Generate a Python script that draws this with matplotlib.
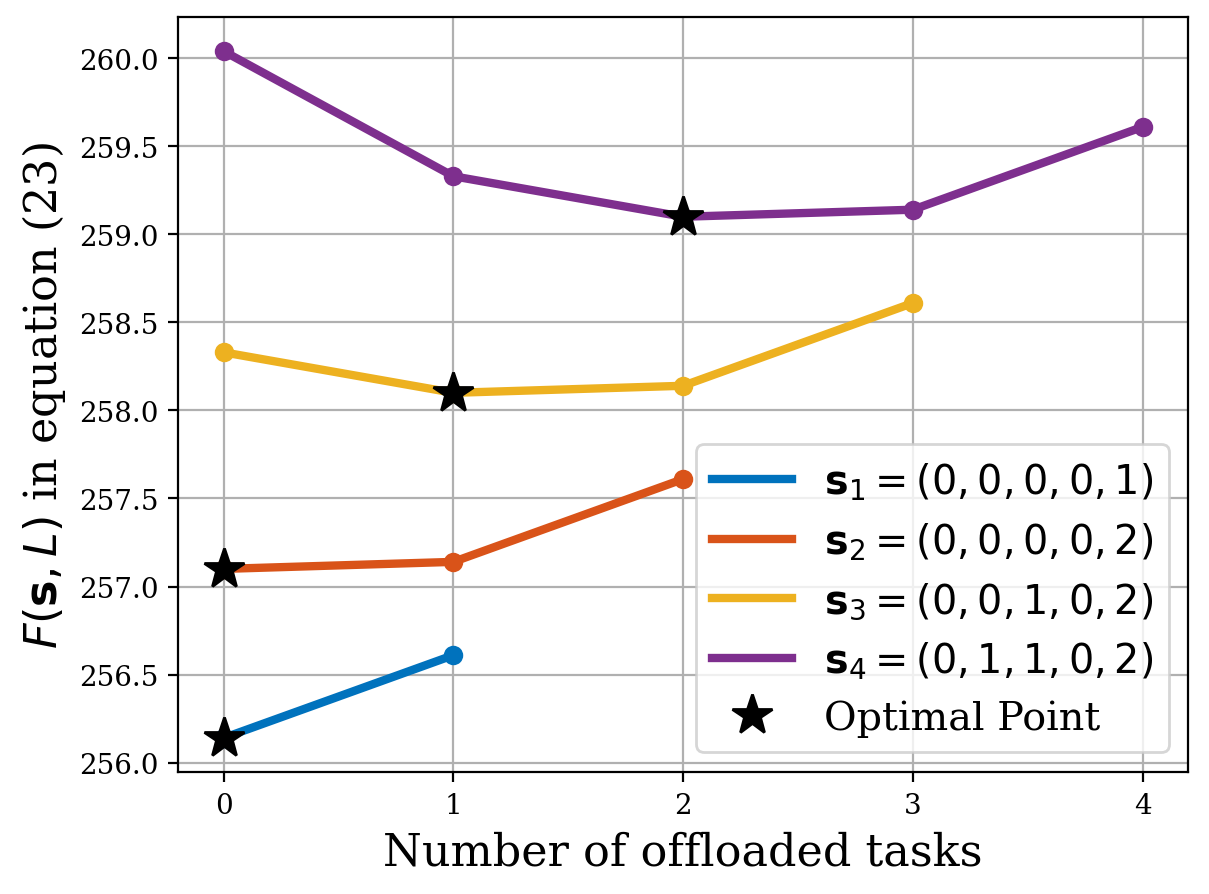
import matplotlib
matplotlib.use("Agg")
import matplotlib.pyplot as plt

plt.rcParams['font.family'] = 'DejaVu Serif'
plt.rcParams['mathtext.fontset'] = 'dejavusans'

x1 = [0, 1]
y1 = [256.14, 256.61]
x2 = [0, 1, 2]
y2 = [257.10, 257.14, 257.61]
x3 = [0, 1, 2, 3]
y3 = [258.33, 258.10, 258.14, 258.61]
x4 = [0, 1, 2, 3, 4]
y4 = [260.04, 259.33, 259.10, 259.14, 259.61]
opt_x = [0, 0, 1, 2]
opt_y = [256.14, 257.10, 258.10, 259.10]

labels = [r'$\mathbf{s}_1=(0,0,0,0,1)$', r'$\mathbf{s}_2=(0,0,0,0,2)$',
          r'$\mathbf{s}_3=(0,0,1,0,2)$', r'$\mathbf{s}_4=(0,1,1,0,2)$']
colors = ['#0072BD', '#D95319', '#EDB120', '#7E2F8E']

fig, ax = plt.subplots(figsize=(6.045, 4.475), dpi=200)
handles = []
for xs, ys, c, lab in zip([x1, x2, x3, x4], [y1, y2, y3, y4], colors, labels):
    ax.plot(xs, ys, '-o', color=c, lw=3, ms=6)
    h, = ax.plot([], [], '-', color=c, lw=3, label=lab)
    handles.append(h)
hs = ax.plot(opt_x, opt_y, '*', color='black', ms=15, ls='none', label='Optimal Point', zorder=5)[0]
handles.append(hs)

ax.set_xticks([0, 1, 2, 3, 4])
ax.grid(True)
ax.set_xlabel('Number of offloaded tasks', fontsize=16)
ax.set_ylabel(r'$F(\mathbf{s},L)$ in equation (23)', fontsize=16)
ax.legend(handles=handles, loc='lower right', fontsize=14.3, labelspacing=0.46)
fig.subplots_adjust(left=0.147, right=0.983, top=0.98, bottom=0.136)
fig.savefig('out.png', dpi=200)
